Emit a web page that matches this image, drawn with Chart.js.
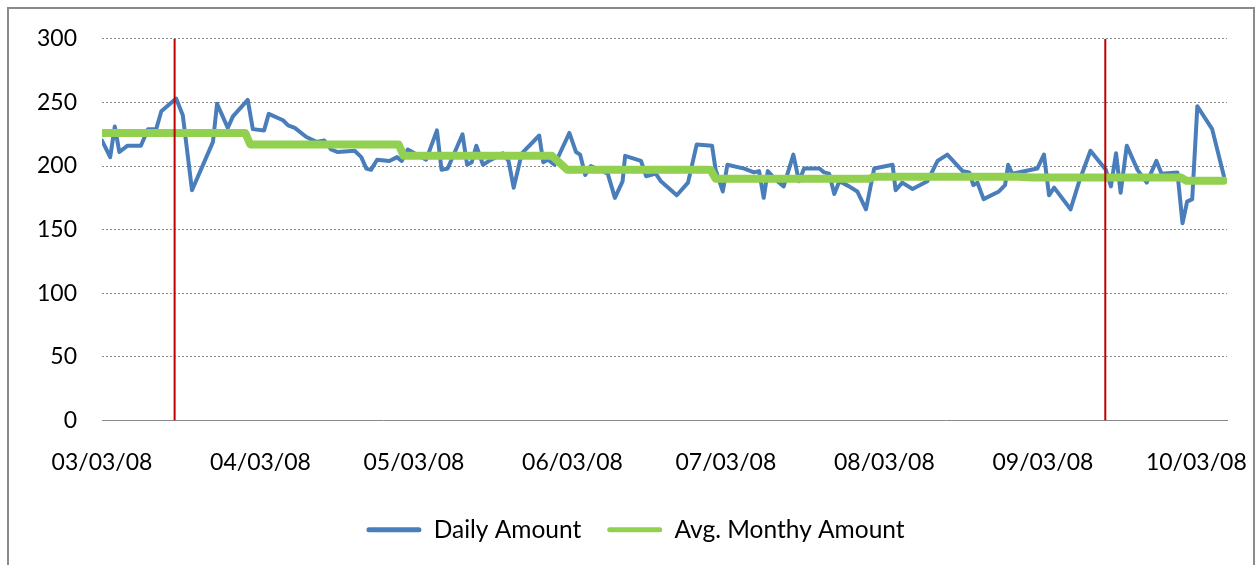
<!DOCTYPE html>
<html>
<head>
<meta charset="utf-8">
<script src="https://cdn.jsdelivr.net/npm/chart.js@4.4.1/dist/chart.umd.min.js"></script>
<style>
  html, body { margin:0; padding:0; background:#fff; overflow:hidden; }
  #wrap { position:relative; width:1255px; height:565px; }
  #frame { position:absolute; left:7px; top:7px; width:1244px; height:600px; border:2px solid #8a8a8a; }
  canvas { position:absolute; left:0; top:0; }
</style>
</head>
<body>
<div id="wrap">
  <div id="frame"></div>
  <canvas id="amountChart" width="1255" height="565"></canvas>
</div>
<script>
// x values are days counted from 03/03/08
const tickDays = [0, 31, 61, 92, 122, 153, 184, 214];
const tickLabels = ["03/03/08","04/03/08","05/03/08","06/03/08","07/03/08","08/03/08","09/03/08","10/03/08"];

const dailyDays = [
  0, 1.6, 2.5, 3.4, 5.0, 7.6, 9.0, 10.6, 11.6, 14.5, 15.8, 17.6, 21.7, 22.5, 24.6, 25.6,
  28.5, 29.5, 31.7, 32.6, 35.4, 36.4, 37.7, 39.9, 41.9, 43.5, 44.8, 46.1, 49.4, 50.7, 51.7, 52.6,
  53.8, 56.2, 57.7, 58.6, 59.8, 61.1, 63.4, 65.5, 66.4, 67.6, 70.5, 71.4, 72.3, 73.2, 74.5, 76.1,
  78.4, 79.5, 80.5, 82.1, 85.5, 86.3, 87.2, 88.5, 91.4, 92.7, 93.5, 94.5, 95.6, 98.9, 100.3, 101.8,
  102.3, 105.4, 106.4, 108.3, 109.3, 112.4, 114.6, 116.3, 119.3, 120.0, 121.4, 122.3, 125.6, 127.5, 128.5, 129.4,
  130.2, 131.8, 133.3, 135.2, 136.3, 137.3, 140.3, 141.2, 142.2, 143.2, 144.2, 146.1, 147.7, 149.4, 151.0, 154.6,
  155.2, 156.5, 158.5, 161.4, 163.4, 165.3, 168.3, 169.6, 170.4, 171.2, 172.4, 175.4, 176.6, 177.2, 178.0, 182.9,
  184.2, 185.2, 186.2, 189.4, 191.1, 193.3, 196.3, 197.3, 198.3, 199.2, 200.4, 202.5, 204.3, 206.2, 207.2, 210.3,
  211.3, 212.2, 213.2, 214.2, 217.1, 219.4
];
const dailyAmount = [
  220, 207, 231, 211, 216, 216, 229, 229, 243, 253, 240, 181, 219, 249, 230, 239,
  252, 229, 228, 241, 236, 232, 230, 223, 219, 220, 213, 211, 212, 207, 198, 197,
  205, 204, 207, 204, 213, 210, 205, 228, 197, 198, 225, 201, 203, 216, 201, 205,
  210, 204, 183, 210, 224, 203, 205, 201, 226, 211, 209, 193, 200, 194, 175, 188,
  208, 204, 192, 194, 188, 177, 187, 217, 216, 197, 180, 201, 198, 195, 196, 175,
  196, 189, 184, 209, 188, 198, 198, 195, 194, 178, 188, 184, 180, 166, 198, 201,
  181, 187, 182, 188, 204, 209, 196, 195, 185, 187, 174, 180, 185, 201, 194, 198,
  209, 177, 183, 166, 188, 212, 197, 184, 210, 179, 216, 197, 187, 204, 194, 195,
  155, 172, 174, 247, 229, 192
];

const avgDays = [0, 28, 29, 58, 59, 88, 91, 119, 120, 150, 151, 179, 182, 211, 212, 219.4];
const avgAmount = [226, 226, 217, 217, 208, 208, 197, 197, 190, 190, 191.5, 191.5, 191, 191, 188.5, 188.5];

const markerDays = [14.2, 196.2];

function toPoints(xs, ys){
    return xs.map((x, i) => ({ x: x, y: ys[i] }));
}

const markerSets =
    markerDays.map(d => ({
        label: "marker",
        data: [{ x: d, y: 0 }, { x: d, y: 300 }],
        borderColor: "#c00000",
        borderWidth: 2,
        pointRadius: 0,
        order: 1
    }));

new Chart(
    document.getElementById("amountChart"),
    {
        type: "line",
        data: {
            datasets: [
                {
                    label: "Daily Amount",
                    data: toPoints(dailyDays, dailyAmount),
                    borderColor: "#4a7ebb",
                    backgroundColor: "#4a7ebb",
                    borderWidth: 4,
                    borderJoinStyle: "round",
                    borderCapStyle: "round",
                    pointRadius: 0,
                    order: 3
                },
                {
                    label: "Avg. Monthy Amount",
                    data: toPoints(avgDays, avgAmount),
                    borderColor: "#92d050",
                    backgroundColor: "#92d050",
                    borderWidth: 8,
                    borderJoinStyle: "round",
                    borderCapStyle: "round",
                    pointRadius: 0,
                    order: 2
                }
            ].concat(markerSets)
        },
        options: {
            responsive: false,
            animation: false,
            layout: { padding: { left: 20, right: 4, top: 37, bottom: 13 } },
            plugins: {
                tooltip: { enabled: false },
                legend: {
                    position: "bottom",
                    labels: {
                        font: { family: "Lato", size: 24.5 },
                        color: "#000",
                        boxWidth: 55,
                        boxHeight: 5,
                        padding: 26,
                        useBorderRadius: true,
                        borderRadius: 2.5,
                        filter: item => item.text !== "marker",
                        sort: (a, b) => a.datasetIndex - b.datasetIndex,
                        generateLabels: chart =>
                            Chart.defaults.plugins.legend.labels.generateLabels(chart)
                            .map(item => Object.assign(item, { lineWidth: 0 }))
                    }
                }
            },
            scales: {
                x: {
                    type: "linear",
                    min: 0,
                    max: 220,
                    afterFit: scale => {
                        scale.height = 71;
                        scale.paddingLeft = 0;
                        scale.paddingRight = 28;
                    },
                    afterBuildTicks: scale => {
                        scale.ticks = tickDays.map(v => ({ value: v }));
                    },
                    grid: { display: false, drawTicks: false },
                    border: { display: true, color: "#8a8a8a", width: 1 },
                    ticks: {
                        autoSkip: false,
                        maxRotation: 0,
                        padding: 28,
                        color: "#000",
                        font: { family: "Lato", size: 23 },
                        callback: (value, index) => tickLabels[index]
                    }
                },
                y: {
                    min: 0,
                    max: 300,
                    afterFit: scale => { scale.width = 82; },
                    grid: {
                        drawTicks: false,
                        color: ctx => ctx.tick && ctx.tick.value === 0 ? "rgba(0,0,0,0)" : "#8a8a8a",
                        lineWidth: 1
                    },
                    border: { display: false, dash: [2, 2] },
                    ticks: {
                        stepSize: 50,
                        padding: 25,
                        color: "#000",
                        font: { family: "Lato", size: 23 }
                    }
                }
            }
        }
    }
);
</script>
</body>
</html>
